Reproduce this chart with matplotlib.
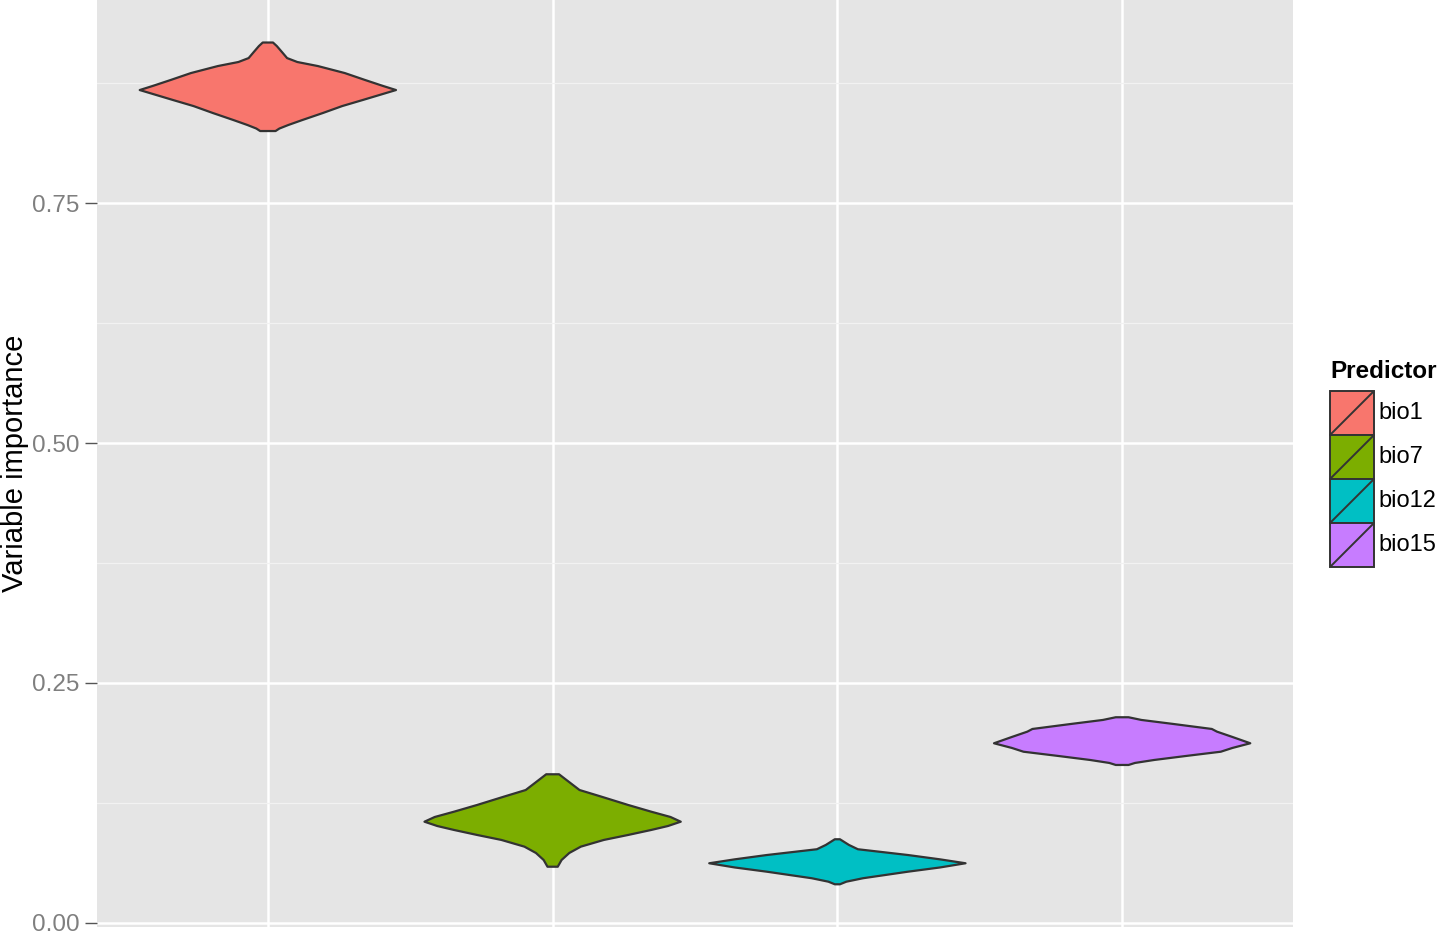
import matplotlib
matplotlib.use("Agg")
import matplotlib.pyplot as plt
from matplotlib.patches import Rectangle
from matplotlib.lines import Line2D

plt.rcParams['font.family'] = ['Liberation Sans', 'DejaVu Sans']

# predictors and ggplot default hue colours
predictors = ['bio1', 'bio7', 'bio12', 'bio15']
colors = ['#F8766D', '#7CAE00', '#00BFC4', '#C77CFF']

# violin outlines: importance value -> relative half width
bio1_y = [0.9172, 0.9135, 0.9073, 0.9010, 0.8969, 0.8927, 0.8854, 0.8781, 0.8719,
          0.8677, 0.8625, 0.8573, 0.8510, 0.8438, 0.8365, 0.8313, 0.8276, 0.8250]
bio1_w = [0.04, 0.07, 0.11, 0.15, 0.23, 0.39, 0.60, 0.76, 0.90,
          1.00, 0.87, 0.74, 0.58, 0.43, 0.27, 0.16, 0.09, 0.06]

bio7_y = [0.1549, 0.1472, 0.1385, 0.1316, 0.1229, 0.1159, 0.1104, 0.1055,
          0.1010, 0.0969, 0.0917, 0.0865, 0.0795, 0.0729, 0.0656, 0.0586]
bio7_w = [0.05, 0.125, 0.21, 0.38, 0.59, 0.77, 0.92, 1.00,
          0.90, 0.77, 0.59, 0.40, 0.22, 0.13, 0.07, 0.04]

bio12_y = [0.0872, 0.0813, 0.0768, 0.0708, 0.0663, 0.0622, 0.0578, 0.0534, 0.0466, 0.0430, 0.0403]
bio12_w = [0.02, 0.09, 0.16, 0.55, 0.80, 1.00, 0.80, 0.55, 0.20, 0.07, 0.02]

bio15_y = [0.2143, 0.2115, 0.2073, 0.2021, 0.1993, 0.1938, 0.1872,
           0.1823, 0.1784, 0.1740, 0.1698, 0.1667, 0.1646]
bio15_w = [0.05, 0.15, 0.40, 0.70, 0.74, 0.86, 1.00,
           0.86, 0.77, 0.50, 0.25, 0.10, 0.05]

profiles = [(bio1_y, bio1_w), (bio7_y, bio7_w), (bio12_y, bio12_w), (bio15_y, bio15_w)]

y_ticks = [0.00, 0.25, 0.50, 0.75]
y_ticklabels = ['0.00', '0.25', '0.50', '0.75']

W, H = 1438, 940
fig = plt.figure(figsize=(W / 100, H / 100), dpi=100)
ax = fig.add_axes([97 / W, 13 / H, (1293 - 97) / W, 927 / H])
ax.set_facecolor('#E5E5E5')
for s in ax.spines.values():
    s.set_visible(False)

ax.set_xlim(0.4, 4.6)
ax.set_ylim(-0.0042, 0.9615)
ax.set_xticks([1, 2, 3, 4])
ax.set_xticklabels([])
ax.tick_params(axis='x', length=0)
ax.set_yticks(y_ticks)
ax.set_yticklabels(y_ticklabels)
ax.set_yticks([0.125, 0.375, 0.625, 0.875], minor=True)
ax.tick_params(axis='y', which='major', length=8.5, width=1.0, color='#555555',
               labelsize=17.5, labelcolor='#7F7F7F', pad=4)
ax.tick_params(axis='y', which='minor', length=0)
ax.grid(which='major', color='white', linewidth=1.8)
ax.grid(which='minor', axis='y', color='#F2F2F2', linewidth=0.9)
ax.set_axisbelow(True)

for i, (yv, wv) in enumerate(profiles):
    cx = i + 1
    xs = [cx - 0.45 * w for w in wv] + [cx + 0.45 * w for w in wv[::-1]]
    ys = list(yv) + list(yv[::-1])
    ax.fill(xs, ys, facecolor=colors[i], edgecolor='#333333', linewidth=1.6,
            joinstyle='round', zorder=3)

ax.set_ylabel('Variable importance', fontsize=21, color='black')
ax.yaxis.set_label_coords(-68 / (1293 - 97), 0.5)

# legend drawn by hand, ggplot style
fig.text(1330 / W, 1 - 372 / H, 'Predictor', fontsize=17.5, fontweight='bold',
         va='center', ha='left')
key = 44
top = 391
for i, (name, c) in enumerate(zip(predictors, colors)):
    y0 = top + i * key
    fig.add_artist(Rectangle((1330 / W, 1 - (y0 + key) / H), key / W, key / H,
                             transform=fig.transFigure, facecolor=c,
                             edgecolor='#333333', linewidth=1.4))
    fig.add_artist(Line2D([1331 / W, 1373 / W], [1 - (y0 + key - 1) / H, 1 - (y0 + 1) / H],
                          transform=fig.transFigure, color='#333333', linewidth=1.4))
    fig.text(1378 / W, 1 - (y0 + key / 2) / H, name, fontsize=17, va='center', ha='left')

fig.savefig('out.png', dpi=100)
